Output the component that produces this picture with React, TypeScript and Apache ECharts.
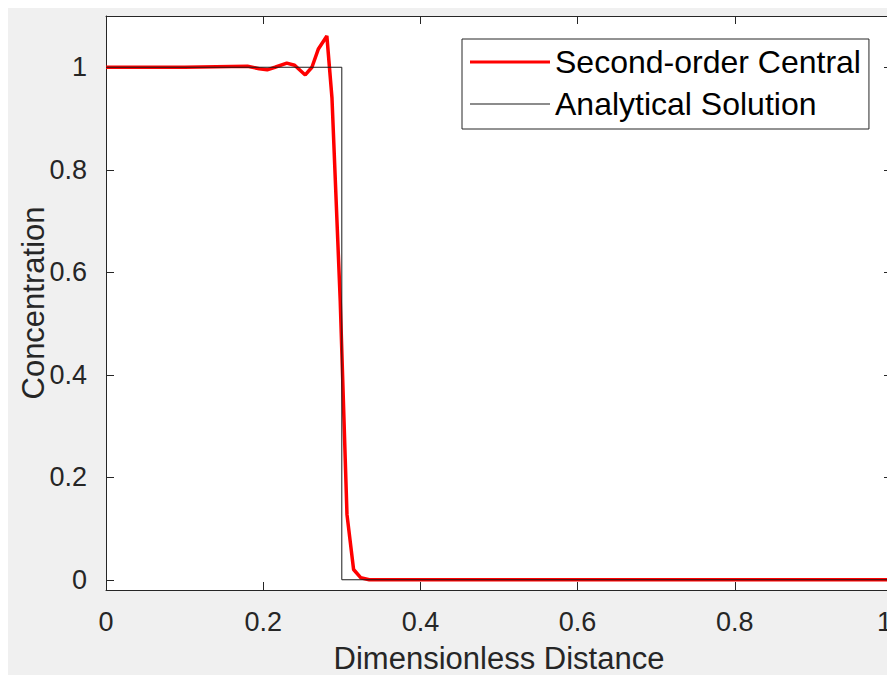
import React, { useEffect, useRef } from "react";
import * as echarts from "echarts";

const xTicks = [0, 0.2, 0.4, 0.6, 0.8, 1];
const yTicks = [0, 0.2, 0.4, 0.6, 0.8, 1];

const numericalX = [0, 0.05, 0.1, 0.14, 0.18, 0.195, 0.205, 0.215, 0.23, 0.24, 0.2535, 0.262, 0.27, 0.281, 0.2875, 0.298, 0.3066, 0.315, 0.324, 0.335, 0.4, 0.6, 0.8, 1];
const numericalY = [1, 1, 1, 1.001, 1.002, 0.997, 0.995, 1.0, 1.008, 1.004, 0.985, 1.0, 1.035, 1.061, 0.94, 0.544, 0.127, 0.02, 0.004, 0, 0, 0, 0, 0];

const analyticalX = [0, 0.3, 0.3, 1];
const analyticalY = [1, 1, 0, 0];

const seriesNames = ["Second-order Central", "Analytical Solution"];

const FONT = "'Liberation Sans', Arial, Helvetica, sans-serif";
const INK = "#262626";

export default function App() {
  const ref = useRef<HTMLDivElement>(null);
  useEffect(() => {
    if (!ref.current) return;
    const chart = echarts.init(ref.current, undefined, { renderer: "svg" });
    const axisCommon = {
      axisLine: { show: true, onZero: false, lineStyle: { color: INK, width: 1 } },
      axisTick: { show: true, inside: true, length: 8, lineStyle: { color: INK } },
      splitLine: { show: false },
    };
    chart.setOption({
      animation: false,
      backgroundColor: "#f0f0f0",
      textStyle: { fontFamily: FONT },
      grid: {
        left: 98,
        right: 3,
        top: 8,
        bottom: 85,
        outerBoundsMode: "none",
        containLabel: false,
        show: true,
        backgroundColor: "#ffffff",
        borderWidth: 0,
      },
      legend: {
        orient: "vertical",
        left: 454,
        top: 31,
        backgroundColor: "#ffffff",
        borderColor: INK,
        borderWidth: 1,
        borderRadius: 0,
        padding: [7, 8, 9, 8],
        itemWidth: 80,
        itemHeight: 3,
        itemGap: 10,
        symbolKeepAspect: true,
        textStyle: { fontSize: 32, color: "#000", fontFamily: FONT },
        data: [
          { name: seriesNames[0], icon: "path://M0,0H80V3H0Z", itemStyle: { color: "#ff0000" } },
          { name: seriesNames[1], icon: "path://M0,0H80V1H0Z", itemStyle: { color: "#1a1a1a" } },
        ],
      },
      xAxis: [
        {
          type: "value",
          min: 0,
          max: 1,
          interval: 0.2,
          position: "bottom",
          ...axisCommon,
          axisLabel: { show: true, fontSize: 27, color: INK, margin: 18, fontFamily: FONT, alignMaxLabel: "right", customValues: xTicks },
          name: "Dimensionless Distance",
          nameLocation: "middle",
          nameGap: 52,
          nameMoveOverlap: false,
          nameTextStyle: { fontSize: 31, lineHeight: 32, color: INK, fontFamily: FONT },
        },
        {
          type: "value",
          min: 0,
          max: 1,
          interval: 0.2,
          position: "top",
          ...axisCommon,
          axisLabel: { show: false },
        },
      ],
      yAxis: [
        {
          type: "value",
          min: -0.02,
          max: 1.1,
          position: "left",
          ...axisCommon,
          axisTick: { show: true, inside: true, length: 8, lineStyle: { color: INK }, customValues: yTicks },
          axisLabel: { show: true, fontSize: 27, color: INK, margin: 19, fontFamily: FONT, customValues: yTicks },
          name: "Concentration",
          nameLocation: "middle",
          nameGap: 57,
          nameMoveOverlap: false,
          nameTextStyle: { fontSize: 31, lineHeight: 32, color: INK, fontFamily: FONT },
        },
        {
          type: "value",
          min: -0.02,
          max: 1.1,
          position: "right",
          ...axisCommon,
          axisTick: { show: true, inside: true, length: 8, lineStyle: { color: INK }, customValues: yTicks },
          axisLabel: { show: false },
        },
      ],
      series: [
        {
          name: seriesNames[0],
          type: "line",
          xAxisIndex: 0,
          yAxisIndex: 0,
          showSymbol: false,
          symbol: "none",
          lineStyle: { color: "#ff0000", width: 3.5 },
          itemStyle: { color: "#ff0000" },
          data: numericalX.map((x, i) => [x, numericalY[i]]),
        },
        {
          name: seriesNames[1],
          type: "line",
          xAxisIndex: 0,
          yAxisIndex: 0,
          showSymbol: false,
          symbol: "none",
          lineStyle: { color: "#1a1a1a", width: 1 },
          itemStyle: { color: "#1a1a1a" },
          data: analyticalX.map((x, i) => [x, analyticalY[i]]),
        },
      ],
    });
    return () => chart.dispose();
  }, []);
  return <div ref={ref} style={{ width: 887, height: 667 }} />;
}
